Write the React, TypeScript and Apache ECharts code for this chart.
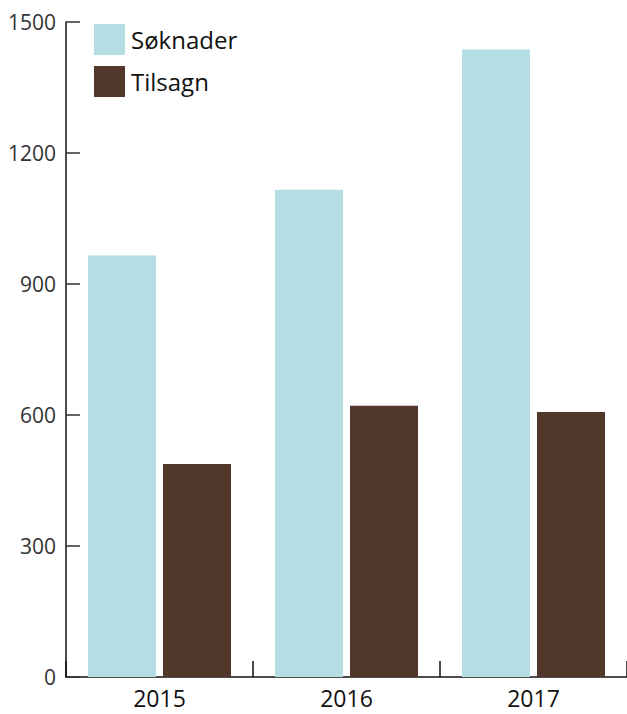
import React, { useEffect, useRef } from "react";
import * as echarts from "echarts";

const categories = ["2015", "2016", "2017"];
const soknader = [965, 1116, 1437];
const tilsagn = [488, 621, 607];
const seriesNames = ["Søknader", "Tilsagn"];

export default function App() {
  const ref = useRef<HTMLDivElement>(null);
  useEffect(() => {
    if (!ref.current) return;
    const chart = echarts.init(ref.current, undefined, { renderer: "svg" });
    const font = "'Open Sans', sans-serif";
    chart.setOption({
      animation: false,
      backgroundColor: "#ffffff",
      grid: { left: 66, right: 0, top: 22, bottom: 37, containLabel: false },
      legend: {
        orient: "vertical",
        left: 89,
        top: 19,
        itemWidth: 31,
        itemHeight: 31,
        itemGap: 11,
        icon: "rect",
        data: seriesNames,
        textStyle: { fontFamily: font, fontSize: 24, color: "#111", padding: [0, 0, 0, 1] },
      },
      xAxis: {
        type: "category",
        data: categories,
        axisLine: { show: true, lineStyle: { color: "#111", width: 1.5 } },
        axisTick: { show: true, inside: true, length: 16, lineStyle: { color: "#111", width: 1.5 } },
        axisLabel: { fontFamily: font, fontSize: 23, lineHeight: 23, color: "#111", margin: 9 },
        splitLine: { show: false },
      },
      yAxis: {
        type: "value",
        min: 0,
        max: 1500,
        interval: 300,
        axisLine: { show: true, lineStyle: { color: "#111", width: 1.5 } },
        axisTick: { show: true, inside: true, length: 14, lineStyle: { color: "#333", width: 1.5 } },
        axisLabel: {
          fontFamily: font,
          fontSize: 21,
          color: "#333",
          margin: 10,
          formatter: (v: number) => String(v),
        },
        splitLine: { show: false },
      },
      series: [
        {
          name: seriesNames[0],
          type: "bar",
          data: soknader,
          barWidth: 68,
          barGap: "10.3%",
          itemStyle: { color: "#b4dee4" },
        },
        {
          name: seriesNames[1],
          type: "bar",
          data: tilsagn,
          barWidth: 68,
          barGap: "10.3%",
          itemStyle: { color: "#52372b" },
        },
      ],
    });
    return () => chart.dispose();
  }, []);
  return (
    <div
      ref={ref}
      style={{ position: "fixed", left: 0, top: 0, width: 627, height: 714 }}
    />
  );
}
